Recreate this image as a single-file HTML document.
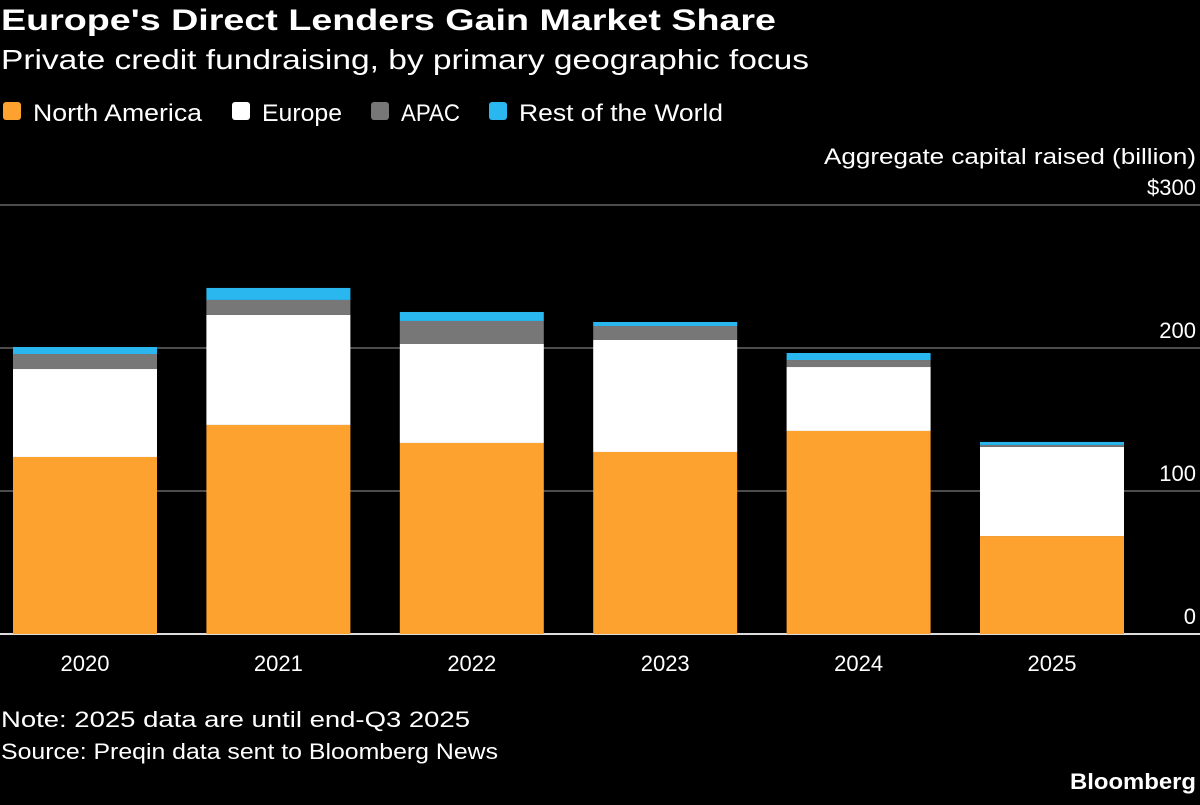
<!DOCTYPE html>
<html><head><meta charset="utf-8">
<style>
body{margin:0;background:#000;width:1200px;height:800px;overflow:hidden;font-family:"Liberation Sans",sans-serif;color:#fff}
</style></head>
<body>
<svg id="chart" width="1200" height="800" xmlns="http://www.w3.org/2000/svg">
<text x="1" y="30" font-size="30" font-weight="bold" fill="#fff" textLength="775" lengthAdjust="spacingAndGlyphs">Europe's Direct Lenders Gain Market Share</text>
<text x="1" y="69" font-size="28" fill="#fff" textLength="808" lengthAdjust="spacingAndGlyphs">Private credit fundraising, by primary geographic focus</text>
<g font-size="24" fill="#fff">
<rect x="3" y="102" width="18" height="18" rx="3" fill="#fda12f"/>
<text x="33" y="121" textLength="169" lengthAdjust="spacingAndGlyphs">North America</text>
<rect x="232" y="102" width="18" height="18" rx="3" fill="#fff"/>
<text x="262" y="121" textLength="80" lengthAdjust="spacingAndGlyphs">Europe</text>
<rect x="371" y="102" width="18" height="18" rx="3" fill="#777"/>
<text x="401" y="121" textLength="59" lengthAdjust="spacingAndGlyphs">APAC</text>
<rect x="489" y="102" width="18" height="18" rx="3" fill="#2ab7f0"/>
<text x="519" y="121" textLength="204" lengthAdjust="spacingAndGlyphs">Rest of the World</text>
</g>
<text x="1196" y="164" font-size="22" text-anchor="end" fill="#fff" textLength="372" lengthAdjust="spacingAndGlyphs">Aggregate capital raised (billion)</text>
<g id="grid"></g>
<g id="bars"></g>
<g id="xlabels"></g>
<text x="1" y="727" font-size="22" fill="#fff" textLength="469" lengthAdjust="spacingAndGlyphs">Note: 2025 data are until end-Q3 2025</text>
<text x="1" y="759" font-size="22" fill="#fff" textLength="497" lengthAdjust="spacingAndGlyphs">Source: Preqin data sent to Bloomberg News</text>
<text x="1070" y="789" font-size="22" font-weight="bold" fill="#fff" textLength="126" lengthAdjust="spacingAndGlyphs">Bloomberg</text>
</svg>
<script>
const categories=["2020","2021","2022","2023","2024","2025"];
const northAmerica=[123.8,146.2,133.6,127.3,142,68.5];
const europe=[61.5,76.9,69.2,78.3,44.7,62.3];
const apac=[10.5,10.5,16.1,9.8,4.9,1.4];
const restOfWorld=[4.9,8.4,6.3,2.8,4.9,2.1];
const yTicks=[0,100,200,300];
const yTickLabels=["0","100","200","$300"];
const NS="http://www.w3.org/2000/svg";
const y0=634,pxPer=1.43;
function yScale(v){return y0-v*pxPer;}
function xCenter(i){return 85+i*193.4;}
const bw=144;
const grid=document.getElementById('grid');
yTicks.forEach((t,i)=>{
 const l=document.createElementNS(NS,'line');
 l.setAttribute('x1',0);l.setAttribute('x2',1200);
 l.setAttribute('y1',yScale(t));l.setAttribute('y2',yScale(t));
 l.setAttribute('stroke',t===0?'#ddd':'#666');l.setAttribute('stroke-width',t===0?2:1.5);
 
 
 grid.appendChild(l);
 const tx=document.createElementNS(NS,'text');
 tx.setAttribute('x',1196);tx.setAttribute('y',yScale(t)-10);
 tx.setAttribute('text-anchor','end');tx.setAttribute('font-size','22');tx.setAttribute('fill','#fff');
 tx.textContent=yTickLabels[i];
 
 
 grid.appendChild(tx);
});
const series=[[northAmerica,'#fda12f','north-america'],[europe,'#fff','europe'],[apac,'#777','apac'],[restOfWorld,'#2ab7f0','rest-of-world']];
const bars=document.getElementById('bars'),xl=document.getElementById('xlabels');
categories.forEach((c,i)=>{
 let base=0;
 series.forEach(([arr,col,nm])=>{
  const v=arr[i];
  const r=document.createElementNS(NS,'rect');
  r.setAttribute('x',xCenter(i)-bw/2);r.setAttribute('width',bw);
  r.setAttribute('y',yScale(base+v));r.setAttribute('height',v*pxPer);
  r.setAttribute('fill',col);
  
  
  bars.appendChild(r);
  base+=v;
 });
 const t=document.createElementNS(NS,'text');
 t.setAttribute('x',xCenter(i));t.setAttribute('y',671);t.setAttribute('text-anchor','middle');
 t.setAttribute('font-size','22');t.setAttribute('fill','#fff');t.textContent=c;
 
 
 xl.appendChild(t);
});
</script>
</body></html>
